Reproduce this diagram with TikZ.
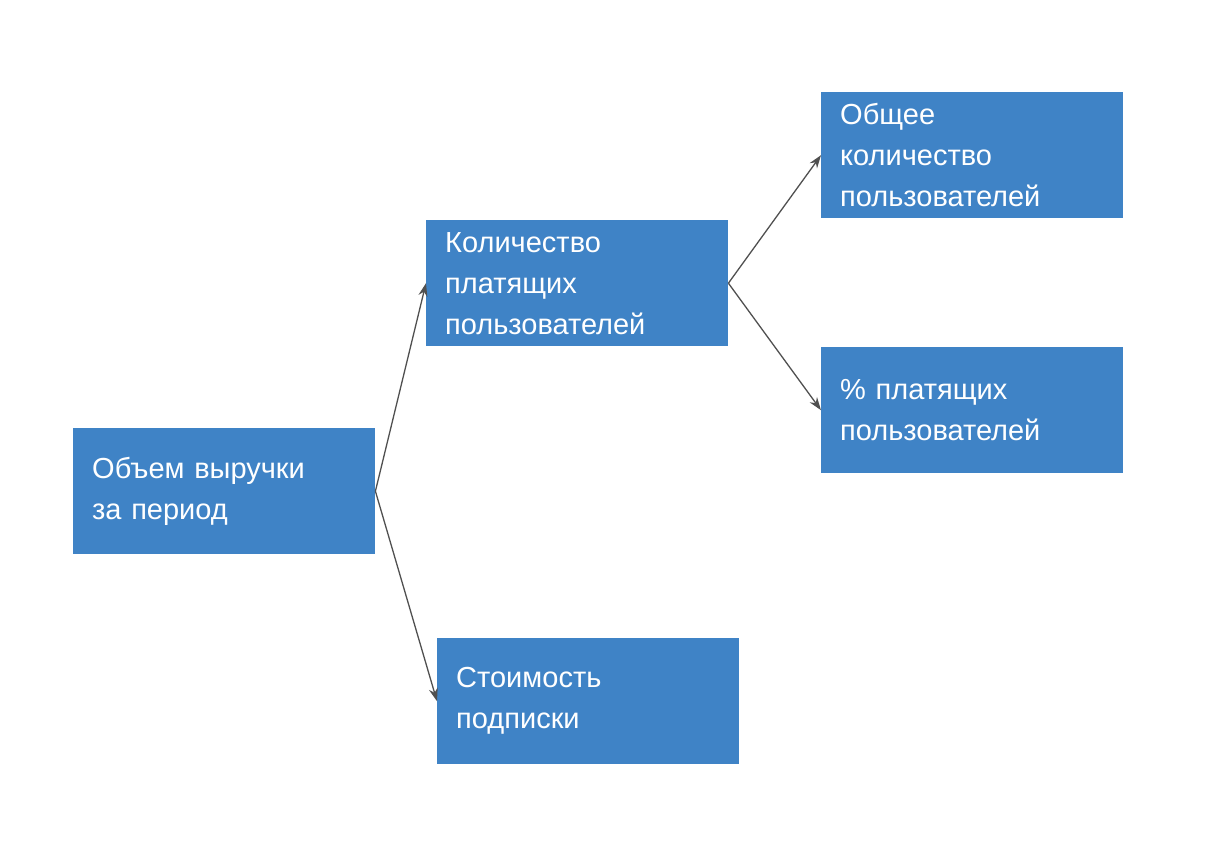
\documentclass[tikz,border=0pt]{standalone}
\usepackage{fontspec}
\setmainfont{Liberation Sans}
\usetikzlibrary{arrows.meta}
\definecolor{boxblue}{RGB}{63,131,198}
\definecolor{arr}{RGB}{80,80,80}
\begin{document}
\begin{tikzpicture}[x=1pt,y=-1pt,
  box/.style={draw=none,fill=boxblue,text=white,minimum width=302pt,minimum height=126pt,
    text width=264pt,inner xsep=19pt,align=left,font=\fontsize{29}{41}\selectfont,anchor=north west},
  con/.style={draw=arr,line width=1.3pt,-{Stealth[length=13pt,width=9pt]}}]
\useasboundingbox (0,0) rectangle (1226,858);
\node[box] (A) at (73,428) {Объем выручки\\за период};
\node[box] (B) at (426,220) {Количество\\платящих\\пользователей};
\node[box] (C) at (437,638) {Стоимость\\подписки};
\node[box] (D) at (821,92) {Общее\\количество\\пользователей};
\node[box] (E) at (821,347) {\% платящих\\пользователей};
\draw[con] (A.east) -- (B.west);
\draw[con] (A.east) -- (C.west);
\draw[con] (B.east) -- (D.west);
\draw[con] (B.east) -- (E.west);
\end{tikzpicture}
\end{document}
